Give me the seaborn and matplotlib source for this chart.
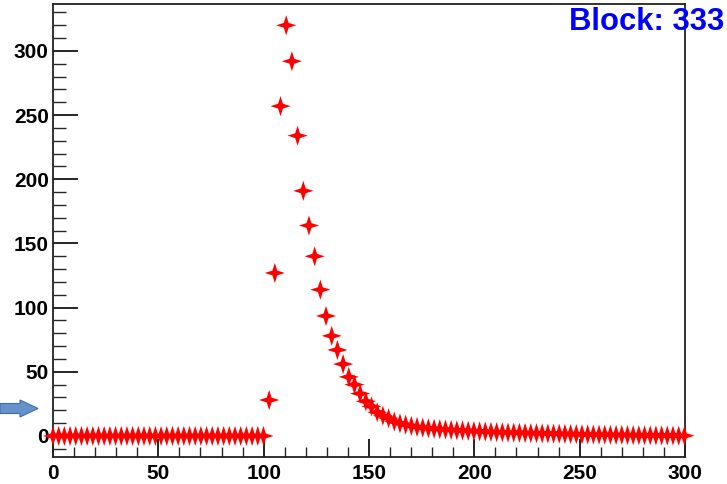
import numpy as np
import pandas as pd
import matplotlib
matplotlib.use("Agg")
import matplotlib.pyplot as plt
from matplotlib.path import Path
from matplotlib.patches import FancyArrow
from matplotlib.ticker import MultipleLocator
import seaborn as sns

# Pulse samples: one value every 2.7 ticks across the 0-300 window
sample_step = 2.7
baseline = [0.0] * 38
pulse = [28, 127, 257, 320, 292, 234, 191, 164, 140, 114, 93.5, 78,
         67, 56, 46, 40, 33, 27, 23, 18.5, 15.8, 13.8, 11.2, 9.8, 8.8,
         7.8, 7.0, 6.5, 6.0, 5.6, 5.3, 5.0, 4.7, 4.4, 4.2, 4.0, 3.8,
         3.6, 3.4, 3.2, 3.0, 2.9, 2.7, 2.6, 2.5, 2.3, 2.2, 2.1, 2.0,
         1.9, 1.8, 1.7, 1.6, 1.5, 1.4, 1.3, 1.2, 1.1, 1.0, 1.0, 0.9,
         0.8, 0.8, 0.7, 0.6, 0.6, 0.5, 0.5, 0.4, 0.4, 0.3, 0.3, 0.2, 0.2]
amplitude = baseline + pulse
sample = np.arange(len(amplitude)) * sample_step
block_label = "Block: 333"
x_ticks = [0, 50, 100, 150, 200, 250, 300]
y_ticks = [0, 50, 100, 150, 200, 250, 300]

df = pd.DataFrame({"sample": sample, "amplitude": amplitude})

sns.set_theme(style="ticks")
plt.rcParams["font.family"] = ["Liberation Sans", "DejaVu Sans"]

fig = plt.figure(figsize=(7.27, 4.84), dpi=100)
W, H = 727, 484
ax = fig.add_axes([53 / W, 27 / H, (685 - 53) / W, (457 - 4) / H])

# four-pointed star marker
r = 0.24
star = Path([(0, 1), (r, r), (1, 0), (r, -r), (0, -1), (-r, -r), (-1, 0), (-r, r), (0, 1)],
            [Path.MOVETO] + [Path.LINETO] * 7 + [Path.CLOSEPOLY])

sns.scatterplot(data=df, x="sample", y="amplitude", ax=ax, marker=star,
                s=210, color="#ff0000", edgecolor="none", linewidth=0,
                zorder=3, clip_on=False, legend=False)

ax.set_xlim(0, 300)
ax.set_ylim(-16.4, 336.6)
ax.set_xlabel("")
ax.set_ylabel("")
ax.set_xticks(x_ticks)
ax.set_yticks(y_ticks)
ax.xaxis.set_minor_locator(MultipleLocator(10))
ax.yaxis.set_minor_locator(MultipleLocator(10))
ax.tick_params(axis="both", which="major", direction="in", colors="black",
               width=1.2, labelsize=15)
ax.tick_params(axis="x", which="major", length=13, pad=5)
ax.tick_params(axis="y", which="major", length=18, pad=3)
ax.tick_params(axis="x", which="minor", direction="in", length=7, width=1.0)
ax.tick_params(axis="y", which="minor", direction="in", length=9, width=1.0)
for lab in ax.get_xticklabels() + ax.get_yticklabels():
    lab.set_fontweight("bold")
for side in ["top", "right", "left", "bottom"]:
    ax.spines[side].set_visible(True)
    ax.spines[side].set_color("#222222")
    ax.spines[side].set_linewidth(1.3)

fig.text(724 / W, 1 - 30 / H, block_label, ha="right", va="baseline",
         fontsize=22.3, fontweight="bold", color="#0000ff")

# pointer arrow on the left margin
arrow = FancyArrow(0 / W, 1 - 408.5 / H, 38 / W, 0, width=10 / H,
                   head_width=17 / H, head_length=18 / W,
                   length_includes_head=True, transform=fig.transFigure,
                   facecolor="#6592cc", edgecolor="#3f6ea6", linewidth=0.8)
fig.patches.append(arrow)

fig.savefig("out.png", dpi=100)
